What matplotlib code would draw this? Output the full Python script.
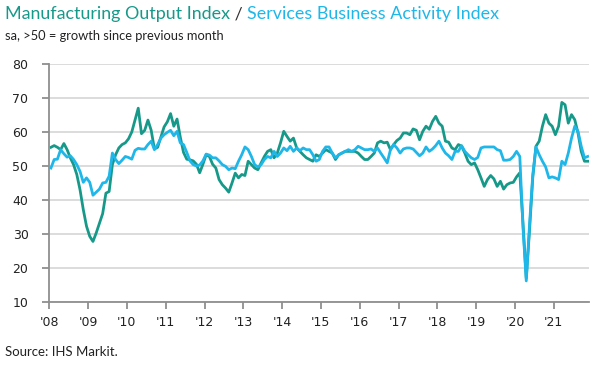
import numpy as np
import matplotlib
matplotlib.use("Agg")
import matplotlib.pyplot as plt

# monthly values, Jan 2008 - Nov 2021
year_labels = ["'08", "'09", "'10", "'11", "'12", "'13", "'14",
               "'15", "'16", "'17", "'18", "'19", "'20", "'21"]

mfg_output = [
    55.5, 56.0, 55.5, 54.8, 56.6, 54.8, 52.4, 50.4, 47.5, 43.0, 37.2, 32.3,  # 2008
    29.3, 27.8, 30.3, 33.2, 36.0, 42.0, 42.5, 50.4, 53.3, 55.3, 56.3, 56.8,  # 2009
    58.0, 60.0, 63.5, 67.0, 59.5, 60.5, 63.5, 60.5, 55.0, 55.5, 58.5, 61.5,  # 2010
    63.0, 65.4, 61.7, 63.8, 58.5, 54.0, 52.0, 51.8, 51.5, 50.5, 48.0, 50.5,  # 2011
    53.3, 52.8, 50.5, 49.4, 46.0, 44.5, 43.5, 42.3, 45.0, 47.9, 46.5, 47.5,  # 2012
    47.2, 51.4, 50.4, 49.4, 48.9, 50.9, 52.8, 54.3, 54.8, 52.4, 53.8, 56.8,  # 2013
    60.2, 58.7, 57.3, 58.2, 55.3, 54.3, 53.3, 52.4, 51.9, 51.4, 53.3, 52.8,  # 2014
    53.8, 54.8, 54.3, 53.8, 51.9, 53.3, 53.8, 54.3, 54.3, 54.3, 54.3, 53.8,  # 2015
    52.8, 51.9, 51.9, 52.8, 53.8, 56.8, 57.3, 56.8, 57.0, 54.8, 56.3, 57.5,  # 2016
    58.2, 59.7, 59.7, 59.2, 60.9, 60.5, 57.7, 60.2, 61.7, 60.8, 63.1, 64.6,  # 2017
    62.6, 61.7, 57.3, 57.0, 55.3, 54.8, 56.3, 55.8, 53.8, 51.4, 50.4, 50.9,  # 2018
    48.9, 46.5, 44.0, 46.0, 47.2, 46.2, 44.0, 45.5, 43.2, 44.5, 45.0, 45.2,  # 2019
    46.8, 48.0, 33.0, 17.0, 31.0, 46.5, 55.8, 57.3, 61.7, 65.1, 62.6, 61.7,  # 2020
    59.2, 61.7, 68.7, 68.0, 62.6, 65.1, 63.6, 59.7, 54.3, 51.4, 51.4,        # 2021
]

services_activity = [
    49.4, 51.9, 52.0, 54.8, 53.6, 52.6, 53.0, 51.9, 50.4, 48.4, 45.2, 46.5,  # 2008
    45.2, 41.4, 42.3, 43.2, 45.0, 45.2, 47.0, 53.8, 51.9, 50.7, 51.7, 52.8,  # 2009
    52.5, 52.0, 54.6, 55.2, 55.0, 55.0, 56.3, 57.3, 54.8, 56.3, 58.2, 59.2,  # 2010
    59.9, 60.5, 58.9, 60.2, 56.8, 56.3, 54.0, 51.5, 50.4, 50.0, 50.3, 51.5,  # 2011
    53.5, 53.2, 52.4, 52.4, 51.5, 50.4, 49.9, 48.9, 49.4, 49.2, 51.4, 53.3,  # 2012
    55.6, 54.8, 52.8, 50.4, 49.7, 50.4, 51.9, 52.8, 52.4, 54.3, 52.8, 53.8,  # 2013
    55.3, 54.5, 55.8, 54.3, 55.3, 54.5, 55.3, 54.8, 54.8, 53.3, 51.4, 51.9,  # 2014
    54.3, 55.6, 55.6, 53.8, 52.4, 53.3, 53.8, 54.3, 54.8, 54.3, 54.8, 55.8,  # 2015
    55.3, 54.8, 54.8, 55.0, 54.3, 55.3, 53.8, 52.4, 50.9, 54.8, 56.3, 55.3,  # 2016
    53.8, 55.0, 55.3, 55.3, 55.0, 54.0, 53.0, 53.8, 55.6, 54.3, 55.0, 56.0,  # 2017
    57.3, 55.3, 53.8, 53.0, 51.9, 54.3, 54.3, 56.0, 54.3, 53.3, 52.4, 51.9,  # 2018
    52.5, 55.3, 55.6, 55.6, 55.6, 55.6, 54.8, 54.5, 51.7, 51.7, 51.9, 52.8,  # 2019
    54.3, 52.8, 31.7, 16.2, 32.6, 47.3, 55.6, 53.3, 51.4, 49.7, 46.5, 46.8,  # 2020
    46.5, 46.0, 51.4, 50.4, 53.8, 58.2, 61.7, 60.2, 55.8, 52.4, 52.8,        # 2021
]

green = "#17998a"
blue = "#1fb7e9"
axis_grey = "#8f8f8f"

fig = plt.figure(figsize=(6, 3.69), dpi=100)
ax = fig.add_axes([0.0822, 0.1816, 0.9, 0.645])

x = np.arange(len(mfg_output)) + 0.5
ax.plot(x, mfg_output, color=green, lw=2.0, solid_joinstyle="round")
ax.plot(x, services_activity, color=blue, lw=2.0, solid_joinstyle="round")

ax.set_xlim(0, len(mfg_output))
ax.set_ylim(10, 80)
ax.set_yticks(range(10, 81, 10))
ax.set_xticks(np.arange(len(year_labels)) * 12)
ax.set_xticklabels(year_labels)

ax.yaxis.grid(True, color="#d9d9d9", lw=1.3)
ax.set_axisbelow(True)
for side in ["top", "right"]:
    ax.spines[side].set_visible(False)
for side in ["left", "bottom"]:
    ax.spines[side].set_color(axis_grey)
    ax.spines[side].set_linewidth(1.3)

ax.tick_params(axis="both", direction="out", length=5, width=1.3,
               color=axis_grey, labelsize=9, labelcolor="#222222")
ax.tick_params(axis="y", pad=10)
ax.tick_params(axis="x", pad=5)

# title in two colours
fig.canvas.draw()
r = fig.canvas.get_renderer()
parts = [("Manufacturing Output Index", green), (" / ", "#333333"),
         ("Services Business Activity Index", blue)]
xpos = 5
for txt, col in parts:
    t = fig.text(xpos / 600, 1 - 14 / 369, txt, color=col, fontsize=12.9,
                 family="Lato", va="center", ha="left")
    xpos = t.get_window_extent(r).x1

fig.text(5 / 600, 1 - 36 / 369, "sa, >50 = growth since previous month",
         fontsize=9.3, family="Lato", color="#222222", va="center")
fig.text(5 / 600, 1 - 352 / 369, "Source: IHS Markit.",
         fontsize=9.5, family="Lato", color="#222222", va="center")

fig.savefig("out.png", dpi=100)
